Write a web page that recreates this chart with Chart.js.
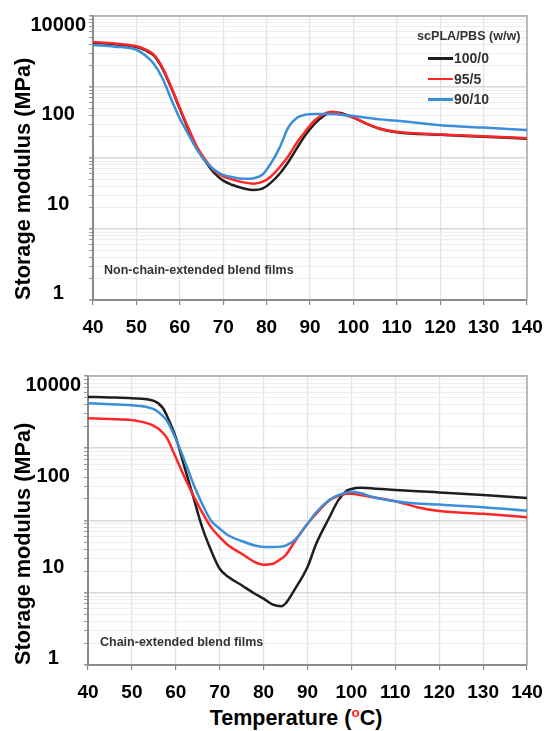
<!DOCTYPE html>
<html>
<head>
<meta charset="utf-8">
<script src="https://cdn.jsdelivr.net/npm/chart.js@4.4.1/dist/chart.umd.min.js"></script>
<style>
  body { margin: 0; background: #fff; font-family: "Liberation Sans", Arial, sans-serif; }
  #wrap { position: relative; width: 544px; height: 731px; overflow: hidden; }
  canvas { position: absolute; left: 0; }
  #top-chart { top: 0; }
  #bottom-chart { top: 360px; }
  .note { position: absolute; font-weight: bold; font-size: 12.5px; color: #333; white-space: nowrap; }
  #legend { position: absolute; left: 417px; top: 29px; font-weight: bold; color: #333; }
  #legend .ttl { font-size: 12.6px; margin-bottom: 5px; }
  #legend .row { display: flex; align-items: center; height: 20.5px; margin-left: 11px; font-size: 14px; }
  #legend .swatch { width: 25px; height: 2.5px; margin-right: 1px; }
  #x-title { position: absolute; left: 146px; width: 300px; top: 706px; text-align: center;
             font-weight: bold; font-size: 21.5px; line-height: 24px; color: #000; }
  #x-title sup { color: #ff2020; font-size: 13.5px; line-height: 0; vertical-align: 8px; }
</style>
</head>
<body>
<div id="wrap">
  <canvas id="top-chart" width="544" height="355"></canvas>
  <canvas id="bottom-chart" width="544" height="345"></canvas>
  <div class="note" style="left:104px; top:263px;">Non-chain-extended blend films</div>
  <div class="note" style="left:100px; top:635px;">Chain-extended blend films</div>
  <div id="legend"><div class="ttl">scPLA/PBS (w/w)</div></div>
  <div id="x-title">Temperature (<sup>o</sup>C)</div>
</div>
<script>
// series names and colours
const seriesLabels = ['100/0', '95/5', '90/10'];
const seriesColors = ['#1e1e1e', '#ff2626', '#3b8fd8'];

// y tick labels as printed on the figure
const yTickLabels = ['1', '10', '100', '10000'];

// top panel: non-chain-extended films (MPa vs degC)
const tempsTop = [40, 45, 50, 52, 54, 56, 58, 60, 62, 64, 66, 68, 70, 72, 75, 77, 79, 81, 83, 85, 87, 89, 91, 93, 95, 97, 100, 103, 106, 110, 120, 130, 140];
const top100_0 = [4200, 4000, 3650, 3300, 2780, 1820, 980, 490, 250, 135, 88, 61, 48, 42, 37, 35.5, 37, 45, 60, 88, 138, 212, 300, 385, 440, 430, 370, 305, 258, 230, 212, 200, 187];
const top95_5  = [4300, 4100, 3750, 3400, 2850, 1880, 1010, 510, 262, 142, 92, 66, 55, 50, 45, 43.5, 46, 55, 74, 106, 165, 240, 335, 410, 448, 420, 370, 305, 260, 235, 215, 203, 190];
const top90_10 = [3900, 3700, 3350, 2800, 2130, 1330, 680, 360, 215, 130, 88, 68, 58, 54, 51, 52, 58, 84, 140, 270, 370, 408, 417, 417, 415, 408, 390, 370, 350, 335, 290, 268, 248];

// bottom panel: chain-extended films
const tempsBottom = [40, 45, 50, 55, 57, 58, 60, 62, 64, 66, 68, 70, 72, 75, 78, 80, 82, 84, 85, 87, 90, 92, 95, 97, 99, 100, 102, 105, 110, 115, 120, 130, 140];
const bot100_0 = [5130, 5050, 4930, 4520, 3650, 2800, 1410, 543, 210, 81, 39, 21.5, 16.5, 12.7, 9.7, 8.3, 6.9, 6.5, 7.1, 10.9, 22.7, 48, 111, 190, 260, 273, 283, 278, 265, 255, 245, 226, 205];
const bot95_5  = [2610, 2540, 2450, 2040, 1650, 1380, 746, 397, 221, 130, 81, 59, 45, 34.7, 26.6, 24.5, 25, 29.5, 33, 50, 90, 124, 190, 220, 234, 234, 225, 210, 185, 153, 135, 124, 111];
const bot90_10 = [4200, 4070, 3940, 3470, 2800, 2400, 1340, 675, 321, 170, 100, 77, 62, 52, 45, 43, 43, 43.5, 45, 53, 90, 130, 193, 225, 245, 250, 240, 210, 185, 172, 166, 153, 137];

function isDecade(v) {
  const l = Math.log10(v);
  return Math.abs(l - Math.round(l)) < 1e-9;
}

// top and right edges of the plot frame
const framePlugin = {
  id: 'frame',
  beforeDatasetsDraw(chart) {
    const { ctx, chartArea: a } = chart;
    ctx.save();
    ctx.strokeStyle = '#a8a8a8';
    ctx.lineWidth = 1.5;
    ctx.beginPath();
    ctx.moveTo(a.left, a.top);
    ctx.lineTo(a.right, a.top);
    ctx.lineTo(a.right, a.bottom);
    ctx.stroke();
    ctx.restore();
  }
};

function makeChart(canvasId, temps, seriesList, labelAxisWidth, padding) {
  const datasets = seriesList.map((vals, i) => ({
    label: seriesLabels[i],
    data: temps.map((t, j) => ({ x: t, y: vals[j] })),
    borderColor: seriesColors[i],
    borderWidth: 2.5,
    pointRadius: 0,
    fill: false,
    cubicInterpolationMode: 'monotone'
  })).reverse(); // black drawn last so it sits like the original

  return new Chart(document.getElementById(canvasId), {
    type: 'line',
    data: { datasets },
    plugins: [framePlugin],
    options: {
      responsive: false,
      animation: false,
      devicePixelRatio: 1,
      layout: { padding },
      plugins: { legend: { display: false }, tooltip: { enabled: false } },
      scales: {
        x: {
          type: 'linear',
          min: 40,
          max: 140,
          afterBuildTicks: (s) => { s.ticks = []; for (let v = 40; v <= 140; v += 10) s.ticks.push({ value: v }); },
          // labels may overhang the plot edges; the layout padding handles it
          afterFit: (s) => { s.height = 40; s.paddingLeft = 0; s.paddingRight = 0; },
          grid: { color: '#e2e2e2', lineWidth: 1.2, tickLength: 5, tickColor: '#888' },
          border: { color: '#8a8a8a', width: 2 },
          ticks: { color: '#000', padding: 11, maxRotation: 0, autoSkip: false,
                   font: { family: 'Liberation Sans, Arial', size: 19, weight: 'bold' } }
        },
        y: {
          type: 'logarithmic',
          position: 'left',
          weight: 0,
          min: 1,
          max: 10000,
          afterBuildTicks: (s) => {
            const t = [];
            for (let e = 0; e < 4; e++) for (let d = 1; d < 10; d++) t.push({ value: d * Math.pow(10, e) });
            t.push({ value: 10000 });
            s.ticks = t;
          },
          afterFit: (s) => { s.width = 5; s.paddingTop = 0; s.paddingBottom = 0; },
          grid: {
            color: (c) => (c.tick && isDecade(c.tick.value)) ? '#d8d8d8' : '#eeeeee',
            lineWidth: (c) => (c.tick && isDecade(c.tick.value)) ? 1.6 : 1,
            tickLength: 4,
            tickColor: '#9a9a9a'
          },
          border: { color: '#8a8a8a', width: 2 },
          ticks: { display: false, autoSkip: false }
        },
        yl: {
          type: 'linear',
          position: 'left',
          weight: 1,
          min: -0.068,
          max: 3.106,
          afterBuildTicks: (s) => { s.ticks = yTickLabels.map((_, i) => ({ value: i })); },
          afterFit: (s) => { s.width = labelAxisWidth; s.paddingTop = 0; s.paddingBottom = 0; },
          grid: { display: false, drawTicks: false },
          border: { display: false },
          ticks: {
            crossAlign: 'center',
            padding: 2,
            color: '#000',
            autoSkip: false,
            font: { family: 'Liberation Sans, Arial', size: 20, weight: 'bold' },
            callback: (v) => yTickLabels[v]
          },
          title: {
            display: true,
            text: 'Storage modulus (MPa)',
            align: 'start',
            color: '#000',
            padding: { top: 6, bottom: 0 },
            font: { family: 'Liberation Sans, Arial', size: 21.7, weight: 'bold' }
          }
        }
      }
    }
  });
}

makeChart('top-chart', tempsTop, [top100_0, top95_5, top90_10], 83, { left: 5, right: 17, top: 16, bottom: 15 });
makeChart('bottom-chart', tempsBottom, [bot100_0, bot95_5, bot90_10], 78, { left: 5, right: 17, top: 16, bottom: 0 });

// legend of the top panel
const legend = document.getElementById('legend');
seriesLabels.forEach((name, i) => {
  const row = document.createElement('div');
  row.className = 'row';
  row.innerHTML = '<span class="swatch" style="background:' + seriesColors[i] + '"></span>' + name;
  legend.appendChild(row);
});
</script>
</body>
</html>
